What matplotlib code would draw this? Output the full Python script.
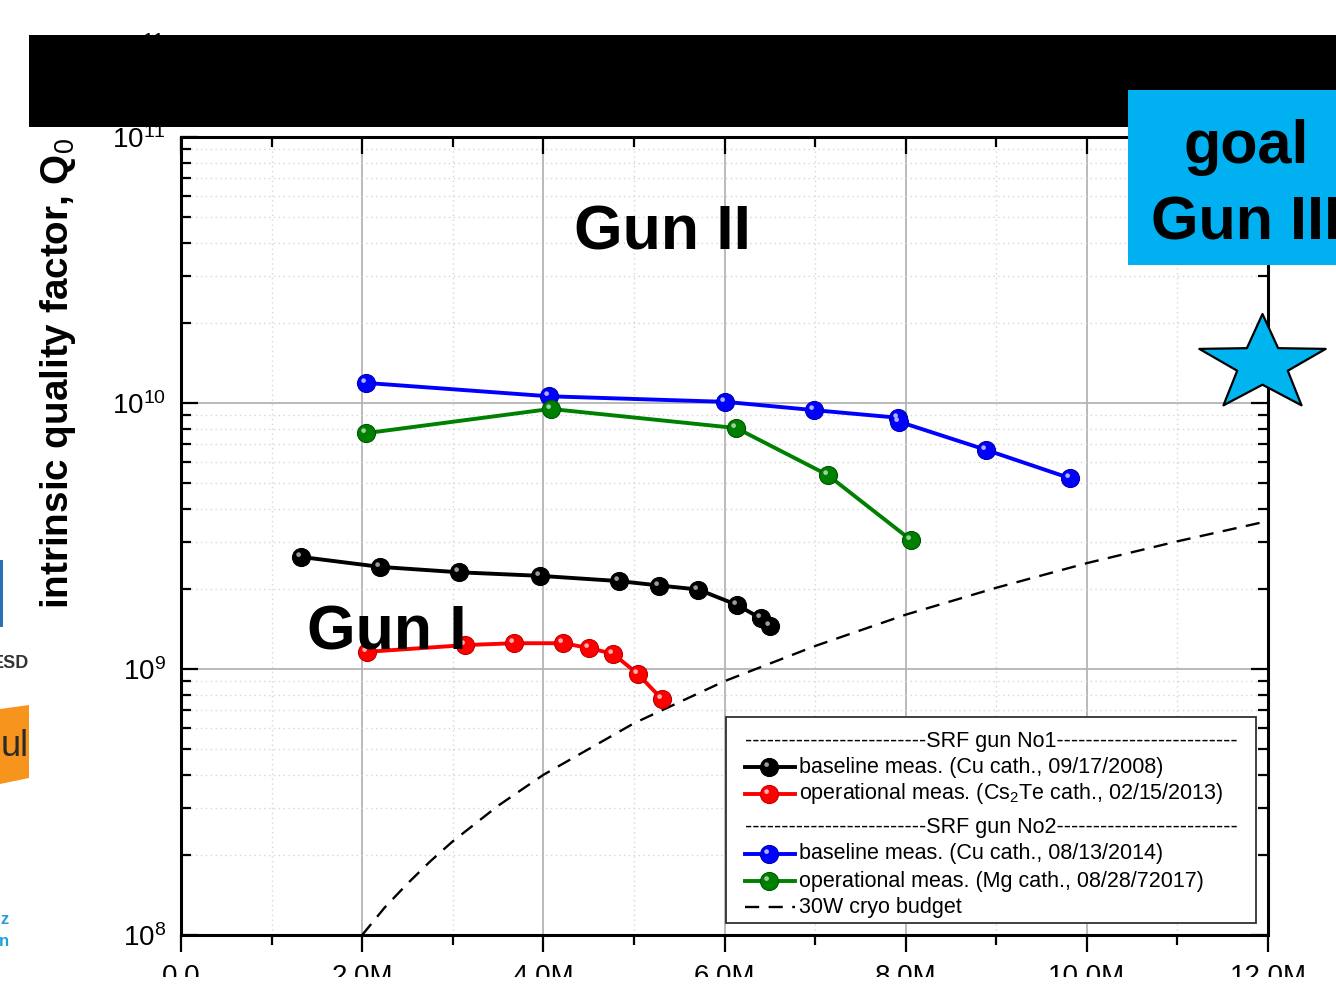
import numpy as np
import matplotlib
matplotlib.use('Agg')
import matplotlib.pyplot as plt
from matplotlib.patches import Rectangle, Polygon
from matplotlib.lines import Line2D
from matplotlib.path import Path
from matplotlib.markers import MarkerStyle
import matplotlib.ticker as mticker

plt.rcParams['font.family'] = ['Liberation Sans', 'DejaVu Sans']
plt.rcParams['mathtext.fontset'] = 'custom'
plt.rcParams['mathtext.rm'] = 'Liberation Sans'
plt.rcParams['mathtext.it'] = 'Liberation Sans:italic'
plt.rcParams['mathtext.bf'] = 'Liberation Sans:bold'

# ---------------- data ----------------
gun1_base_v = [1.32e6, 2.20e6, 3.07e6, 3.96e6, 4.84e6, 5.28e6, 5.71e6, 6.14e6, 6.40e6, 6.50e6]
gun1_base_q = [2.64e9, 2.42e9, 2.31e9, 2.24e9, 2.14e9, 2.06e9, 1.99e9, 1.74e9, 1.55e9, 1.45e9]
gun1_oper_v = [2.05e6, 3.14e6, 3.68e6, 4.22e6, 4.50e6, 4.77e6, 5.04e6, 5.31e6]
gun1_oper_q = [1.16e9, 1.23e9, 1.25e9, 1.25e9, 1.20e9, 1.14e9, 9.6e8, 7.7e8]
gun2_base_v = [2.04e6, 4.06e6, 6.01e6, 6.99e6, 7.92e6, 7.93e6, 8.89e6, 9.81e6]
gun2_base_q = [1.19e10, 1.06e10, 1.01e10, 9.4e9, 8.8e9, 8.5e9, 6.66e9, 5.22e9]
gun2_oper_v = [2.04e6, 4.08e6, 6.13e6, 7.14e6, 8.06e6]
gun2_oper_q = [7.7e9, 9.5e9, 8.05e9, 5.36e9, 3.05e9]
cryo_v = [2.0e6, 2.25e6, 2.5e6, 2.75e6, 3.0e6, 3.5e6, 4.0e6, 5.0e6, 6.0e6, 7.0e6, 8.0e6,
          9.0e6, 10.0e6, 11.0e6, 12.0e6]
cryo_q = [1.0e8, 1.27e8, 1.56e8, 1.89e8, 2.25e8, 3.06e8, 4.0e8, 6.25e8, 9.0e8, 1.22e9, 1.6e9,
          2.02e9, 2.5e9, 3.02e9, 3.6e9]
goal_v = [11.93e6]
goal_q = [1.40e10]

x_major = [0, 2e6, 4e6, 6e6, 8e6, 10e6, 12e6]
x_minor = [1e6, 3e6, 5e6, 7e6, 9e6, 11e6]
x_tick_labels = ['0.0', '2.0M', '4.0M', '6.0M', '8.0M', '10.0M', '12.0M']

legend_labels = ['baseline meas. (Cu cath., 09/17/2008)',
                 'operational meas. (Cs$_2$Te cath., 02/15/2013)',
                 'baseline meas. (Cu cath., 08/13/2014)',
                 'operational meas. (Mg cath., 08/28/72017)',
                 '30W cryo budget']
legend_headers = ['SRF gun No1', 'SRF gun No2']

# ---------------- figure ----------------
W, H = 1336, 989
fig = plt.figure(figsize=(W / 100, H / 100), dpi=100)


def fx(px):
    return px / W


def fy(py):
    return 1 - py / H


ax = fig.add_axes([fx(181), fy(935), fx(1268) - fx(181), fy(137) - fy(935)])
ax.set_xlim(0, 12e6)
ax.set_yscale('log')
ax.set_ylim(1e8, 1e11)

# grid
ax.set_xticks(x_major)
ax.set_xticks(x_minor, minor=True)
ax.set_xticklabels(x_tick_labels)
ax.yaxis.set_major_locator(mticker.LogLocator(base=10, numticks=10))
ax.yaxis.set_minor_locator(mticker.LogLocator(base=10, subs=np.arange(2, 10), numticks=20))
ax.yaxis.set_minor_formatter(mticker.NullFormatter())
ax.grid(True, which='major', color='#b4b4b4', lw=1.3, ls='-', zorder=0)
ax.grid(True, which='minor', color='#d6d6d6', lw=1.0, ls=(0, (1, 2.5)), zorder=0)
ax.set_axisbelow(True)

for s in ax.spines.values():
    s.set_linewidth(2.2)
    s.set_color('black')

ax.tick_params(axis='x', which='both', direction='out', bottom=True, top=False,
               width=1.6, labelsize=20, pad=9)
ax.tick_params(axis='x', which='major', length=12)
ax.tick_params(axis='x', which='minor', length=7)
ax.tick_params(axis='y', which='both', direction='in', left=True, right=True,
               width=1.6, labelsize=20, pad=11)
ax.tick_params(axis='y', which='major', length=12)
ax.tick_params(axis='y', which='minor', length=7)

ax_top = ax.twiny()
ax_top.set_xlim(ax.get_xlim())
ax_top.set_xticks(x_major)
ax_top.set_xticks(x_minor, minor=True)
ax_top.tick_params(axis='x', which='both', direction='in', top=True, bottom=False,
                   labeltop=False, width=1.6)
ax_top.tick_params(axis='x', which='major', length=12)
ax_top.tick_params(axis='x', which='minor', length=7)
for s in ax_top.spines.values():
    s.set_visible(False)

# sphere highlight marker
theta = np.linspace(0, 2 * np.pi, 40)
hl_verts = [(-1.0, -1.0)] + list(zip(-0.32 + 0.26 * np.cos(theta), 0.32 + 0.26 * np.sin(theta)))
hl_codes = [Path.MOVETO, Path.MOVETO] + [Path.LINETO] * (len(theta) - 1)
hl_marker = MarkerStyle(Path(hl_verts, hl_codes))

# slightly flattened five-point star marker (as in the picture)
ang = np.pi / 2 + np.arange(10) * np.pi / 5
rad = np.where(np.arange(10) % 2 == 0, 1.0, 0.40)
star_verts = list(zip(rad * np.cos(ang), 0.76 * rad * np.sin(ang)))
star_verts.append(star_verts[0])
star_codes = [Path.MOVETO] + [Path.LINETO] * 9 + [Path.CLOSEPOLY]
star_marker = MarkerStyle(Path(star_verts, star_codes))

series = [
    (gun1_base_v, gun1_base_q, '#000000', '#000000', '#9a9a9a'),
    (gun1_oper_v, gun1_oper_q, '#ff0000', '#c00000', '#ffb0b0'),
    (gun2_base_v, gun2_base_q, '#0000ff', '#0000b0', '#b0b0ff'),
    (gun2_oper_v, gun2_oper_q, '#008000', '#005500', '#a0d0a0'),
]

ax.plot(cryo_v, cryo_q, color='black', lw=1.7, ls=(0, (6, 4)), zorder=2)
for v, q, c, ec, hc in series:
    ax.plot(v, q, color=c, lw=2.8, marker='o', ms=13, mfc=c, mec=ec, mew=0.8, zorder=3)
    ax.plot(v, q, ls='none', marker=hl_marker, ms=13, mfc=hc, mec='none', zorder=4)

ax.plot(goal_v, goal_q, ls='none', marker=star_marker, ms=91, mfc='#00b4f0', mec='black',
        mew=1.6, clip_on=False, zorder=10)

# big annotations
fig.text(fx(574), fy(250), 'Gun II', fontsize=45, fontweight='bold', ha='left', va='baseline', zorder=5)
fig.text(fx(307), fy(650), 'Gun I', fontsize=45, fontweight='bold', ha='left', va='baseline', zorder=5)

# y label
fig.text(fx(58), fy(373), 'intrinsic quality factor, Q$_0$', fontsize=27.8, fontweight='bold',
         rotation=90, ha='center', va='center')

# legend (drawn manually)
fig.add_artist(Rectangle((fx(726), fy(923)), fx(1256) - fx(726), fy(717) - fy(923),
                         transform=fig.transFigure, facecolor='white', edgecolor='#303030',
                         lw=1.3, zorder=6))
leg_fs = 15.5
dash = '-' * 25
fig.text(fx(991), fy(741), dash + legend_headers[0] + dash, fontsize=leg_fs, ha='center',
         va='center', zorder=7)
fig.text(fx(991), fy(828), dash + legend_headers[1] + dash, fontsize=leg_fs, ha='center',
         va='center', zorder=7)
rows_y = [767, 794, 854, 881]
for (v, q, c, ec, hc), ry, lab in zip(series, rows_y, legend_labels[:4]):
    fig.add_artist(Line2D([fx(745), fx(795)], [fy(ry), fy(ry)], transform=fig.transFigure,
                          color=c, lw=2.8, zorder=7))
    fig.add_artist(Line2D([fx(769)], [fy(ry)], transform=fig.transFigure, ls='none',
                          marker='o', ms=13, mfc=c, mec=ec, mew=0.8, zorder=8))
    fig.add_artist(Line2D([fx(769)], [fy(ry)], transform=fig.transFigure, ls='none',
                          marker=hl_marker, ms=13, mfc=hc, mec='none', zorder=9))
    fig.text(fx(799), fy(ry), lab, fontsize=leg_fs, ha='left', va='center', zorder=7)
fig.add_artist(Line2D([fx(745), fx(795)], [fy(907), fy(907)], transform=fig.transFigure,
                      color='black', lw=1.7, ls=(0, (6, 4)), zorder=7))
fig.text(fx(799), fy(907), legend_labels[4], fontsize=leg_fs, ha='left', va='center', zorder=7)

# ghost tick label above black bar
fig.text(fx(165), fy(46), r'$\mathdefault{10^{11}}$', fontsize=20, ha='right',
         va='center_baseline', zorder=1)

# black bar
fig.add_artist(Rectangle((fx(29), fy(127)), fx(1336) - fx(29), fy(35) - fy(127),
                         transform=fig.transFigure, facecolor='black', edgecolor='none', zorder=20))

# goal box
fig.add_artist(Rectangle((fx(1128), fy(265)), fx(1336) - fx(1128), fy(90) - fy(265),
                         transform=fig.transFigure, facecolor='#00b0f0', edgecolor='none', zorder=21))
fig.text(fx(1183), fy(163), 'goal', fontsize=44, fontweight='bold', ha='left', va='baseline', zorder=22)
fig.text(fx(1151), fy(239), 'Gun III', fontsize=44, fontweight='bold', ha='left', va='baseline', zorder=22)

# white band cutting the x tick labels at the bottom
fig.add_artist(Rectangle((0, 0), 1, fy(977), transform=fig.transFigure, facecolor='white',
                         edgecolor='none', zorder=25))

# logo fragments at left edge
fig.add_artist(Rectangle((fx(0), fy(627)), fx(3), fy(560) - fy(627), transform=fig.transFigure,
                         facecolor='#2f6fba', edgecolor='none', zorder=5))
fig.text(fx(29), fy(663), 'ESD', fontsize=13, fontweight='bold', color='#333333', ha='right',
         va='center', zorder=5)
fig.add_artist(Polygon([(fx(0), fy(709)), (fx(29), fy(705)), (fx(29), fy(778)), (fx(0), fy(784))],
                       closed=True, transform=fig.transFigure, facecolor='#f7941d', edgecolor='none',
                       zorder=5))
fig.text(fx(29), fy(746), 'ul', fontsize=26, color='#2a2a2a', ha='right', va='center', zorder=6)
fig.text(fx(9), fy(920), 'z', fontsize=12, fontweight='bold', color='#23a0da', ha='right',
         va='center', zorder=5)
fig.text(fx(9), fy(941), 'n', fontsize=12, fontweight='bold', color='#23a0da', ha='right',
         va='center', zorder=5)

fig.savefig('out.png', dpi=100)
